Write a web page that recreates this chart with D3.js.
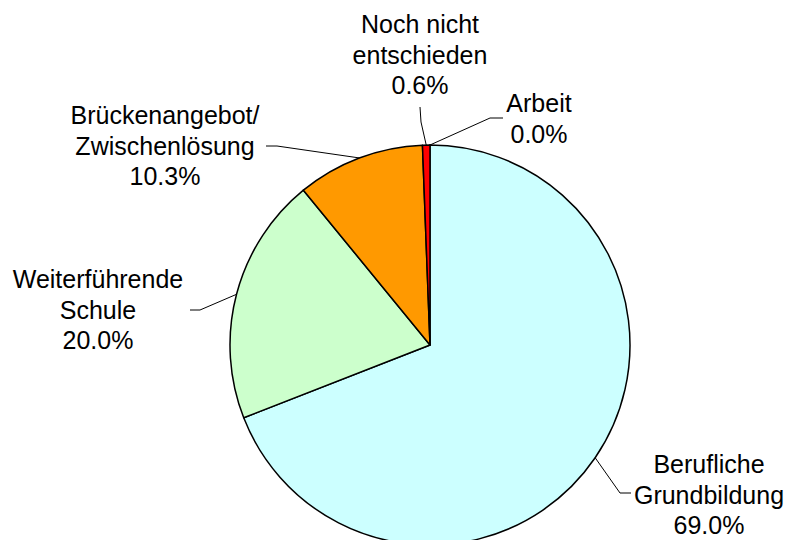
<!DOCTYPE html>
<html>
<head>
<meta charset="utf-8">
<script src="https://cdn.jsdelivr.net/npm/d3@7"></script>
<style>
    body { margin: 0; background: #fff; }
    text { font-family: "Liberation Sans", Arial, sans-serif; font-size: 25px; fill: #000; }
</style>
</head>
<body>
<svg id="chart"></svg>
<script>
// data, clockwise from 12 o'clock
const categories = [
    ['Arbeit'],
    ['Berufliche', 'Grundbildung'],
    ['Weiterführende', 'Schule'],
    ['Brückenangebot/', 'Zwischenlösung'],
    ['Noch nicht', 'entschieden']
];
const shares = [0.0, 69.0, 20.0, 10.3, 0.6];
const colors = ['#ff0000', '#ccffff', '#ccffcc', '#ff9900', '#ff0000'];

// label layout: text centre, first baseline, leader elbow and end
const labelPos = [
    { x: 539, y: 112, elbow: [490, 118], end: [503, 118] },
    { x: 709, y: 473, elbow: [620, 493], end: [631, 493] },
    { x: 98, y: 288, elbow: [200, 310], end: [190, 310] },
    { x: 165, y: 124, elbow: [277, 146], end: [266, 146] },
    { x: 420, y: 33, elbow: [421, 122], end: [420, 107] }
];

const width = 789, height = 540;
const cx = 430, cy = 345, radius = 200;
const lineStep = 30.5;

const svg = d3.select('#chart')
    .attr('width', width)
    .attr('height', height);

const chart = svg.append('g')
    .attr('transform', `translate(${cx},${cy})`);

const pie = d3.pie().sort(null).value(d => d);
const arcs = pie(shares);

const arc = d3.arc().innerRadius(0).outerRadius(radius);

chart.selectAll('path.slice')
    .data(arcs)
    .join('path')
    .attr('class', 'slice')
    .attr('d', arc)
    .attr('fill', (d, i) => colors[i])
    .attr('stroke', '#000')
    .attr('stroke-width', 1.5)
    .attr('stroke-linejoin', 'round');

// leader lines start on the rim at each slice's middle angle
const line = d3.line();
svg.selectAll('path.leader')
    .data(arcs)
    .join('path')
    .attr('class', 'leader')
    .attr('d', (d, i) => {
        const a = (d.startAngle + d.endAngle) / 2;
        const start = [cx + radius * Math.sin(a), cy - radius * Math.cos(a)];
        return line([start, labelPos[i].elbow, labelPos[i].end]);
    })
    .attr('fill', 'none')
    .attr('stroke', '#000')
    .attr('stroke-width', 1);

const fmt = d3.format('.1f');
const labels = svg.selectAll('text.label')
    .data(arcs)
    .join('text')
    .attr('class', 'label')
    .attr('text-anchor', 'middle')
    .attr('x', (d, i) => labelPos[i].x)
    .attr('y', (d, i) => labelPos[i].y);

labels.selectAll('tspan')
    .data((d, i) => categories[i].concat([fmt(d.data) + '%']))
    .join('tspan')
    .attr('x', function () { return d3.select(this.parentNode).attr('x'); })
    .attr('dy', (t, j) => j === 0 ? 0 : lineStep)
    .text(t => t);
</script>
</body>
</html>
